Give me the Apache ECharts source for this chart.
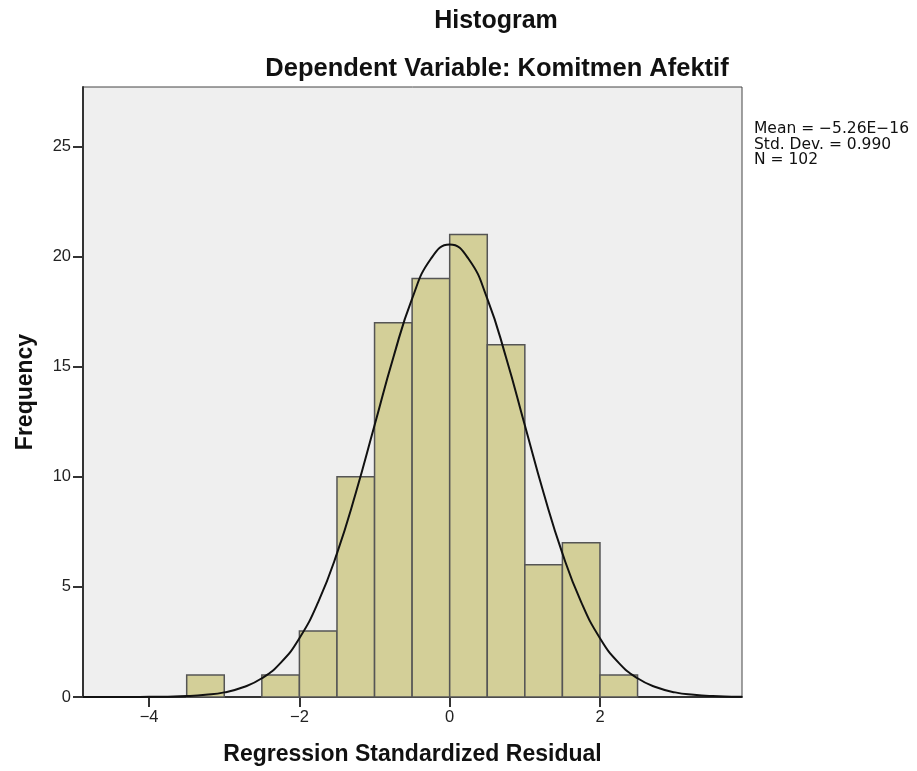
<!DOCTYPE html>
<html><head><meta charset="utf-8">
<script src="https://cdn.jsdelivr.net/npm/echarts@6/dist/echarts.min.js"></script>
<style>html,body{margin:0;padding:0;background:#fff}#c{width:917px;height:771px}</style>
</head><body><div id="c"></div>
<script>
const binStarts = [-3.5, -2.5, -2.0, -1.5, -1.0, -0.5, 0.0, 0.5, 1.0, 1.5, 2.0];
const binWidth = 0.5;
const counts = [1, 1, 3, 10, 17, 19, 21, 16, 6, 7, 1];
const curveX = [-4.88,-4.5,-4.25,-4,-3.75,-3.5,-3.25,-3,-2.75,-2.5,-2.25,-2,-1.75,-1.5,-1.25,-1,-0.75,-0.5,-0.25,0,0.25,0.5,0.75,1,1.25,1.5,1.75,2,2.25,2.5,2.75,3,3.25,3.5,3.75,3.89];
const curveY = [0,0.001,0.002,0.006,0.016,0.04,0.1,0.21,0.44,0.85,1.55,2.67,4.31,6.52,9.26,12.34,15.42,18.09,19.9,20.55,19.9,18.09,15.42,12.34,9.26,6.52,4.31,2.67,1.55,0.85,0.44,0.21,0.1,0.04,0.016,0.009];
const xTicks = [-4, -2, 0, 2];
const yTicks = [0, 5, 10, 15, 20, 25];
const statsLines = ['Mean = \u22125.26E\u221216', 'Std. Dev. = 0.990', 'N = 102'];

const chart = echarts.init(document.getElementById('c'));
const font = 'Liberation Sans';
chart.setOption({
  animation: false,
  title: [
    {text: 'Histogram', left: 491, top: 4, textAlign: 'center',
     textStyle: {fontFamily: font, fontWeight: 'bold', fontSize: 25, color: '#111'}},
    {text: 'Dependent Variable: Komitmen Afektif', left: 492, top: 51, textAlign: 'center',
     textStyle: {fontFamily: font, fontWeight: 'bold', fontSize: 25.5, color: '#111'}}
  ],
  graphic: [{type: 'text', left: 754, top: 121,
    style: {text: statsLines.join('\n'), font: '15.5px "DejaVu Sans"', fill: '#111', lineHeight: 15.5}}],
  grid: {left: 83, right: 175, top: 87, bottom: 74, outerBoundsMode: 'none', containLabel: false,
    show: true, backgroundColor: '#efefef', borderColor: '#444', borderWidth: 1},
  xAxis: {type: 'value', min: -4.88, max: 3.89,
    name: 'Regression Standardized Residual', nameLocation: 'middle', nameGap: 46,
    nameTextStyle: {fontFamily: font, fontWeight: 'bold', fontSize: 23, color: '#111'},
    axisLine: {show: true, onZero: false, lineStyle: {color: '#333', width: 2}},
    axisTick: {show: true, length: 10, customValues: xTicks, lineStyle: {color: '#333', width: 2}},
    axisLabel: {customValues: xTicks, fontFamily: font, fontSize: 16.5, color: '#222', margin: 12,
      formatter: v => (v < 0 ? '\u2212' + Math.abs(v) : String(v))},
    splitLine: {show: false}},
  yAxis: {type: 'value', min: 0, max: 27.7,
    name: 'Frequency', nameLocation: 'middle', nameGap: 46, nameRotate: 90,
    nameTextStyle: {fontFamily: font, fontWeight: 'bold', fontSize: 23, color: '#111'},
    axisLine: {show: true, onZero: false, lineStyle: {color: '#333', width: 2}},
    axisTick: {show: true, length: 10, customValues: yTicks, lineStyle: {color: '#333', width: 2}},
    axisLabel: {customValues: yTicks, fontFamily: font, fontSize: 16.5, color: '#222', margin: 12},
    splitLine: {show: false}},
  series: [
    {type: 'custom', data: binStarts.map((b, i) => [b, b + binWidth, counts[i]]),
     renderItem: function (params, api) {
       const p0 = api.coord([api.value(0), api.value(2)]);
       const p1 = api.coord([api.value(1), 0]);
       return {type: 'rect', shape: {x: p0[0], y: p0[1], width: p1[0] - p0[0], height: p1[1] - p0[1]},
         style: {fill: '#d3cf98', stroke: '#555', lineWidth: 1.5}};
     }, z: 2},
    {type: 'line', data: curveX.map((x, i) => [x, curveY[i]]), smooth: true, showSymbol: false,
     lineStyle: {color: '#111', width: 2}, z: 3}
  ]
});
</script></body></html>
